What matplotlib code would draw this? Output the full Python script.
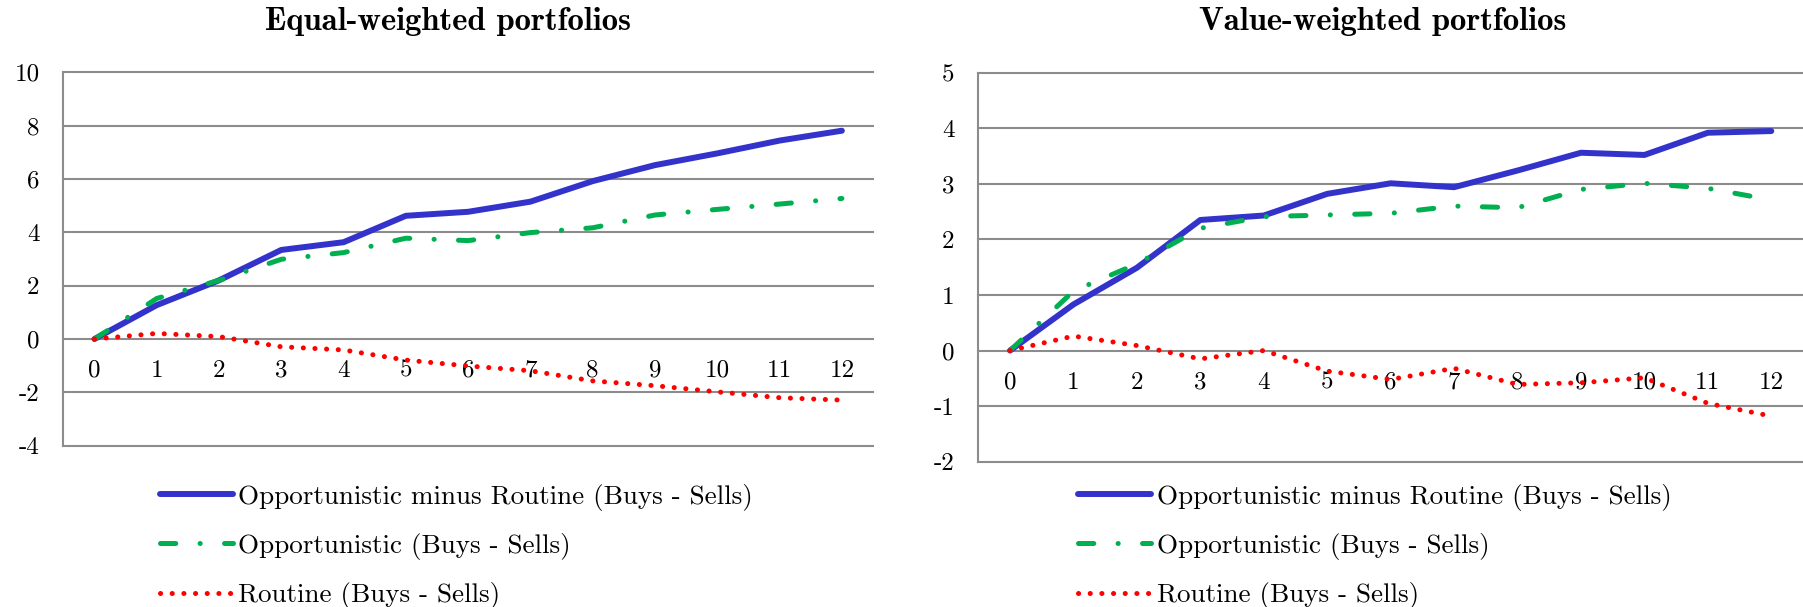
import matplotlib
matplotlib.use("Agg")
import matplotlib.pyplot as plt

# months after the event
months = list(range(13))

# equal-weighted portfolios (cumulative returns, %)
ew_opp_minus_rout = [0, 1.27, 2.2, 3.34, 3.63, 4.62, 4.77, 5.15, 5.92, 6.52, 6.96, 7.44, 7.81]
ew_opp = [0, 1.52, 2.2, 2.99, 3.24, 3.78, 3.69, 3.99, 4.17, 4.65, 4.86, 5.06, 5.27]
ew_rout = [0, 0.21, 0.09, -0.29, -0.41, -0.79, -1.01, -1.19, -1.57, -1.75, -1.98, -2.2, -2.29]

# value-weighted portfolios
vw_opp_minus_rout = [0, 0.83, 1.49, 2.35, 2.43, 2.82, 3.01, 2.94, 3.24, 3.56, 3.52, 3.92, 3.95]
vw_opp = [0, 1.07, 1.56, 2.2, 2.41, 2.44, 2.47, 2.6, 2.57, 2.9, 3.01, 2.92, 2.71]
vw_rout = [0, 0.26, 0.09, -0.15, 0.0, -0.37, -0.52, -0.32, -0.61, -0.58, -0.49, -0.95, -1.18]

labels = ['Opportunistic minus Routine (Buys - Sells)',
          'Opportunistic (Buys - Sells)',
          'Routine (Buys - Sells)']
ew_yticks = [-4, -2, 0, 2, 4, 6, 8, 10]
vw_yticks = [-2, -1, 0, 1, 2, 3, 4, 5]

plt.rcParams['font.family'] = ['cmr10', 'DejaVu Serif']
plt.rcParams['axes.unicode_minus'] = False
plt.rcParams['lines.scale_dashes'] = False

grid_col = '#8c8c8c'


def draw_panel(ax, series, yticks, legend_x):
    lw = 3.6
    ax.plot(months, series[0], color='#3333cc', lw=4.3, solid_capstyle='round',
            label=labels[0], zorder=3)
    ax.plot(months, series[1], color='#00b050', lw=lw, dashes=(11, 17.5, 0.1, 17.5),
            dash_capstyle='round', label=labels[1], zorder=4)
    ax.plot(months, series[2], color='#ff0000', lw=lw, dashes=(0.1, 8.3),
            dash_capstyle='round', label=labels[2], zorder=5)

    ax.set_xlim(-0.5, 12.5)
    ax.set_ylim(yticks[0], yticks[-1])
    ax.set_yticks(yticks)
    ax.set_yticklabels([str(t) for t in yticks])
    ax.set_xticks(months)
    ax.set_xticklabels([str(m) for m in months])

    # category labels sit right under the zero line
    ax.spines['bottom'].set_position(('data', 0))
    ax.spines['bottom'].set_color('none')
    ax.spines['top'].set_visible(False)
    ax.spines['right'].set_visible(False)
    ax.spines['left'].set_color(grid_col)
    ax.spines['left'].set_linewidth(1.5)

    ax.tick_params(axis='x', length=0, pad=15, labelsize=18)
    ax.tick_params(axis='y', length=0, pad=17, labelsize=18)
    ax.grid(axis='y', color=grid_col, lw=1.5)
    ax.set_axisbelow(True)
    for gl in ax.get_ygridlines():
        gl.set_clip_on(False)

    ax.legend(loc='center left', bbox_to_anchor=(legend_x, 0.1),
              bbox_transform=fig.transFigure, frameon=False, fontsize=19.5,
              handlelength=2.7, handletextpad=0.2, labelspacing=0.82,
              borderpad=0, borderaxespad=0)


fig = plt.figure(figsize=(18.03, 6.07), dpi=100)
ax1 = fig.add_axes([0.0351, 0.2657, 0.4491, 0.6152])
ax2 = fig.add_axes([0.5426, 0.2394, 0.4574, 0.6408])

draw_panel(ax1, [ew_opp_minus_rout, ew_opp, ew_rout], ew_yticks, 0.0887)
draw_panel(ax2, [vw_opp_minus_rout, vw_opp, vw_rout], vw_yticks, 0.598)

fig.text(0.2485, 0.9638, 'Equal-weighted portfolios', family='cmb10',
         fontsize=23.5, ha='center', va='center')
fig.text(0.767, 0.9638, 'Value-weighted portfolios', family='cmb10',
         fontsize=23.5, ha='center', va='center')

fig.savefig('out.png', dpi=100)
